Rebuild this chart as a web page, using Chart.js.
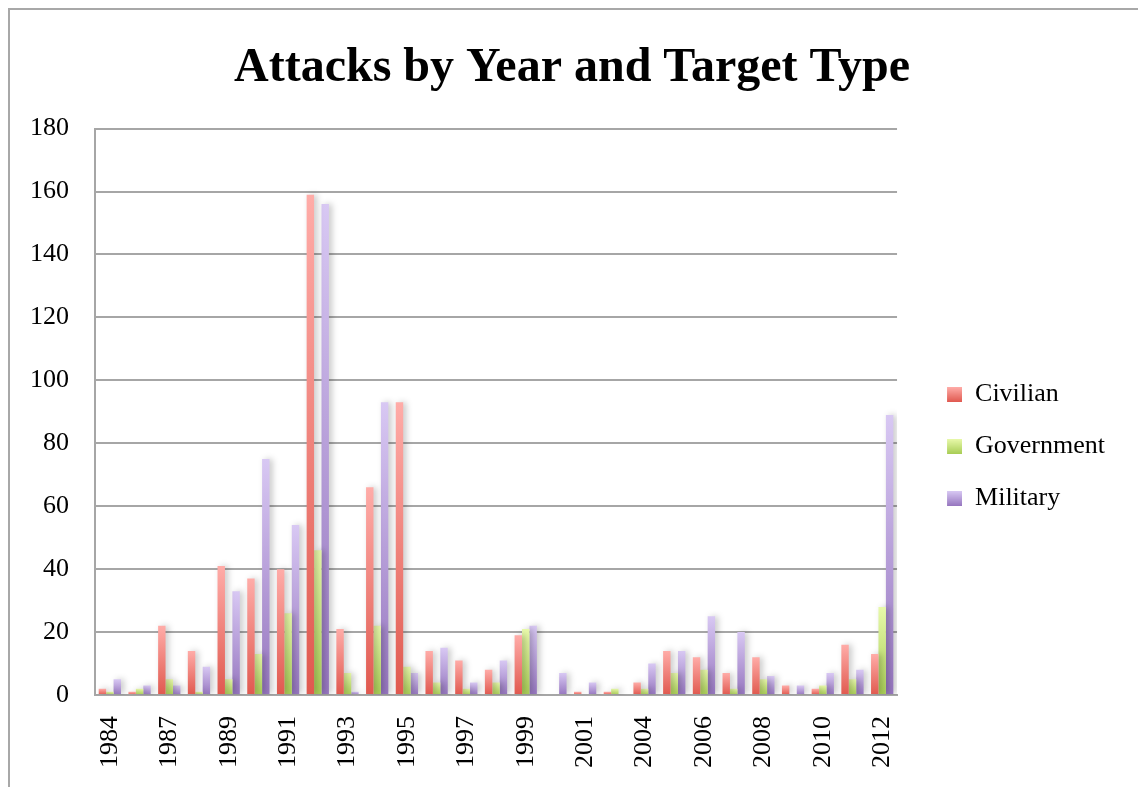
<!DOCTYPE html>
<html>
<head>
<meta charset="utf-8">
<script src="https://cdn.jsdelivr.net/npm/chart.js@4.4.1/dist/chart.umd.min.js"></script>
<style>
  body { margin: 0; background: #fff; }
  #frame { position: absolute; left: 8px; top: 8px; width: 1200px; height: 900px;
           border-left: 2px solid #a8a8a8; border-top: 2px solid #a8a8a8; }
  #wrap { position: absolute; left: 0; top: 0; width: 1138px; height: 787px; }
</style>
</head>
<body>
<div id="frame"></div>
<div id="wrap"><canvas id="chart"></canvas></div>
<script>
const years = ['1984','1986','1987','1988','1989','1990','1991','1992','1993','1994','1995','1996','1997','1998','1999','2000','2001','2002','2004','2005','2006','2007','2008','2009','2010','2011','2012'];
const civilian   = [2, 1, 22, 14, 41, 37, 40, 159, 21, 66, 93, 14, 11, 8, 19, 0, 1, 1, 4, 14, 12, 7, 12, 3, 2, 16, 13];
const government = [1, 2, 5, 1, 5, 13, 26, 46, 7, 22, 9, 4, 2, 4, 21, 0, 0, 2, 2, 7, 8, 2, 5, 0, 3, 5, 28];
const military   = [5, 3, 3, 9, 33, 75, 54, 156, 1, 93, 7, 15, 4, 11, 22, 7, 4, 0, 10, 14, 25, 20, 6, 3, 7, 8, 89];
const yTicks = [0, 20, 40, 60, 80, 100, 120, 140, 160, 180];

const topColors    = ['#ffaca8', '#e8f9aa', '#d8c8f3'];
const bottomColors = ['#e0594f', '#a8cd55', '#9676bf'];

const serif = "'Liberation Serif', 'Times New Roman', serif";

// bar fill: light at the top, darker at the base
function shade(top, bottom) {
  return (c) => {
    if (c.type !== 'data' || !c.chart.chartArea) return bottom;
    const y = c.chart.scales.y;
    const y0 = y.getPixelForValue(0);
    const y1 = y.getPixelForValue(c.raw);
    if (!isFinite(y1) || y0 - y1 < 1) return bottom;
    const g = c.chart.ctx.createLinearGradient(0, y1, 0, y0);
    g.addColorStop(0, top);
    g.addColorStop(1, bottom);
    return g;
  };
}

// legend key: a shaded square, with empty room on its left to keep the key off the plot
function keyIcon(top, bottom) {
  const c = document.createElement('canvas');
  c.width = 39;
  c.height = 15;
  const x = c.getContext('2d');
  const g = x.createLinearGradient(0, 0, 0, 15);
  g.addColorStop(0, top);
  g.addColorStop(1, bottom);
  x.fillStyle = g;
  x.fillRect(24, 0, 15, 15);
  return c;
}
const keyIcons = topColors.map((t, i) => keyIcon(t, bottomColors[i]));

const barShadow = {
  id: 'barShadow',
  beforeDatasetsDraw(chart) {
    const ctx = chart.ctx;
    ctx.save();
    ctx.shadowColor = 'rgba(0,0,0,0.22)';
    ctx.shadowBlur = 6;
    ctx.shadowOffsetX = 3;
  },
  afterDatasetsDraw(chart) {
    chart.ctx.restore();
  }
};

new Chart(document.getElementById('chart'), {
  type: 'bar',
  data: {
    labels: years,
    datasets: [
      { label: 'Civilian', data: civilian, backgroundColor: shade(topColors[0], bottomColors[0]) },
      { label: 'Government', data: government, backgroundColor: shade(topColors[1], bottomColors[1]) },
      { label: 'Military', data: military, backgroundColor: shade(topColors[2], bottomColors[2]) }
    ]
  },
  options: {
    responsive: true,
    maintainAspectRatio: false,
    animation: false,
    layout: { padding: { left: 29, right: 23, top: 0, bottom: 0 } },
    datasets: { bar: { categoryPercentage: 0.75, barPercentage: 1.0 } },
    scales: {
      x: {
        grid: { display: false },
        border: { display: true, color: '#a6a6a6', width: 2 },
        ticks: {
          autoSkip: false,
          minRotation: 90,
          maxRotation: 90,
          padding: 13,
          color: '#000',
          font: { family: serif, size: 26 },
          callback: (v, i) => (i % 2 === 0 ? years[i] : '')
        },
        afterFit: (s) => { s.height = 92; }
      },
      y: {
        min: 0,
        max: 180,
        afterBuildTicks: (s) => { s.ticks = yTicks.map(v => ({ value: v })); },
        grid: { color: '#a6a6a6', lineWidth: 2, drawTicks: false },
        border: { display: true, color: '#a6a6a6', width: 2 },
        ticks: { padding: 26, color: '#000', font: { family: serif, size: 26 } },
        afterFit: (s) => { s.width = 66; }
      }
    },
    plugins: {
      title: {
        display: true,
        text: 'Attacks by Year and Target Type',
        color: '#000',
        font: { family: serif, size: 48, weight: 'bold' },
        padding: { top: 40, bottom: 31 }
      },
      legend: {
        position: 'right',
        title: { display: true, text: ' ', font: { size: 10 }, padding: { top: 94, bottom: 0 } },
        labels: {
          usePointStyle: true,
          pointStyleWidth: 39,
          boxHeight: 15,
          padding: 26,
          color: '#000',
          font: { family: serif, size: 26 },
          generateLabels: (chart) => {
            const items = Chart.defaults.plugins.legend.labels.generateLabels(chart);
            items.forEach((it, i) => { it.pointStyle = keyIcons[i]; });
            return items;
          }
        }
      },
      tooltip: { enabled: false }
    }
  },
  plugins: [barShadow]
});
</script>
</body>
</html>
